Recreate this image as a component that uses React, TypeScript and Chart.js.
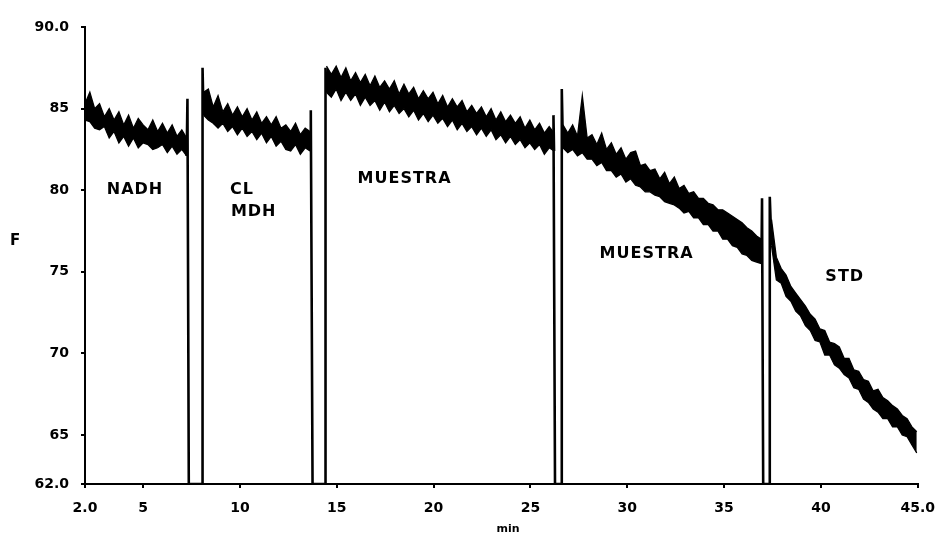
import React, { useEffect, useRef } from 'react';
import { Chart, registerables } from 'chart.js';

Chart.register(...registerables);

// ---- axes ----
const X_MIN = 2;
const X_MAX = 45;
const Y_MIN = 62;
const Y_MAX = 90;
const xTickValues = [2, 5, 10, 15, 20, 25, 30, 35, 40, 45];
const xTickLabels = ['2.0', '5', '10', '15', '20', '25', '30', '35', '40', '45.0'];
const yTickValues = [62, 65, 70, 75, 80, 85, 90];
const yTickLabels = ['62.0', '65', '70', '75', '80', '85', '90.0'];
const xTitle = 'min';
const yTitle = 'F';

// ---- recorder trace: noisy band, upper / lower edge read every SAMPLE_STEP min ----
const SAMPLE_STEP = 0.25;
const BASELINE = 62;
const segmentStart = [2.0, 8.12, 14.47, 26.68, 37.45];

const nadhUpper = [85.3, 86.0, 85.0, 85.3, 84.5, 85.0, 84.3, 84.8, 84.0, 84.6, 83.8, 84.4, 84.0, 83.7, 84.3, 83.6, 84.1, 83.5, 84.0, 83.3, 83.7, 83.2];
const nadhLower = [84.3, 84.2, 83.8, 83.7, 83.9, 83.2, 83.6, 82.9, 83.3, 82.7, 83.2, 82.6, 82.9, 82.8, 82.5, 82.6, 82.8, 82.3, 82.7, 82.2, 82.5, 82.1];

const clMdhUpper = [86.0, 86.2, 85.1, 85.8, 84.8, 85.3, 84.6, 85.1, 84.5, 85.0, 84.3, 84.8, 84.1, 84.5, 84.0, 84.5, 83.8, 84.0, 83.6, 84.1, 83.4, 83.8, 83.6];
const clMdhLower = [84.6, 84.3, 84.1, 83.8, 84.1, 83.6, 83.9, 83.4, 83.8, 83.3, 83.6, 83.1, 83.5, 82.9, 83.3, 82.7, 83.0, 82.5, 82.4, 82.8, 82.2, 82.6, 82.4];

const muestra1Upper = [
  87.6, 87.1, 87.6, 86.9, 87.5, 86.7, 87.2, 86.6, 87.1, 86.4,
  87.0, 86.3, 86.7, 86.2, 86.7, 85.9, 86.5, 85.9, 86.3, 85.6,
  86.1, 85.6, 86.0, 85.3, 85.8, 85.1, 85.6, 85.1, 85.5, 84.8,
  85.2, 84.7, 85.1, 84.5, 85.0, 84.3, 84.8, 84.2, 84.6, 84.1,
  84.5, 83.8, 84.3, 83.7, 84.1, 83.5, 83.9, 83.5,
];
const muestra1Lower = [
  86.0, 85.7, 86.2, 85.5, 86.0, 85.5, 85.9, 85.2, 85.7, 85.2,
  85.5, 84.9, 85.4, 84.8, 85.2, 84.7, 85.0, 84.5, 84.9, 84.3,
  84.7, 84.2, 84.6, 84.1, 84.4, 83.9, 84.3, 83.7, 84.1, 83.6,
  83.9, 83.4, 83.8, 83.3, 83.7, 83.1, 83.4, 82.9, 83.3, 82.8,
  83.1, 82.6, 82.9, 82.5, 82.8, 82.2, 82.6, 82.4,
];

const muestra2Upper = [
  84.0, 83.5, 84.0, 83.3, 85.8, 83.2, 83.4, 82.8, 83.5, 82.5,
  82.9, 82.2, 82.6, 81.9, 82.3, 82.4, 81.5, 81.6, 81.2, 81.3,
  80.7, 81.1, 80.4, 80.8, 80.1, 80.3, 79.8, 79.9, 79.5, 79.5,
  79.2, 79.1, 78.8, 78.8, 78.6, 78.4, 78.2, 78.0, 77.7, 77.5,
  77.2, 77.0,
];
const muestra2Lower = [
  82.6, 82.3, 82.5, 82.1, 82.3, 81.9, 81.9, 81.5, 81.7, 81.2,
  81.2, 80.8, 81.0, 80.5, 80.7, 80.3, 80.2, 79.9, 79.9, 79.7,
  79.6, 79.3, 79.2, 79.1, 78.9, 78.6, 78.7, 78.3, 78.3, 77.9,
  77.9, 77.5, 77.5, 77.0, 77.0, 76.6, 76.5, 76.1, 76.0, 75.7,
  75.6, 75.5,
];

const stdUpper = [
  78.2, 75.9, 75.2, 74.8, 74.1, 73.7, 73.3, 72.9, 72.4, 72.1,
  71.5, 71.4, 70.7, 70.6, 70.4, 69.7, 69.7, 69.0, 68.9, 68.4,
  68.3, 67.7, 67.8, 67.3, 67.1, 66.8, 66.6, 66.2, 66.0, 65.5,
  65.2,
];
const stdLower = [
  76.6, 74.5, 74.3, 73.5, 73.2, 72.6, 72.3, 71.7, 71.4, 70.8,
  70.7, 69.9, 69.9, 69.3, 69.1, 68.7, 68.5, 67.9, 67.8, 67.2,
  67.0, 66.6, 66.4, 66.0, 66.0, 65.5, 65.5, 65.0, 64.9, 64.4,
  63.9,
];

const segmentUpper = [nadhUpper, clMdhUpper, muestra1Upper, muestra2Upper, stdUpper];
const segmentLower = [nadhLower, clMdhLower, muestra1Lower, muestra2Lower, stdLower];

// injections: spike just before the cell is opened, drop to baseline, return
const spikeTime = [7.29, 13.66, 26.19, 36.96];
const spikeBefore = [85.6, 84.9, 84.6, 79.5];
const dropTime = [7.36, 13.75, 26.27, 37.02];
const riseTime = [8.07, 14.42, 26.62, 37.36];
const spikeAfter = [87.5, 87.5, 86.2, 79.6];

// ---- annotations (data coordinates) ----
const annotationTexts = ['NADH', 'CL', 'MDH', 'MUESTRA', 'MUESTRA', 'STD'];
const annotationX = [4.58, 10.11, 10.71, 18.5, 31.0, 41.23];
const annotationY = [80.0, 80.0, 78.7, 80.72, 76.12, 74.71];

function toPoints(vals: number[], start: number) {
  return vals.map((v, i) => ({ x: start + i * SAMPLE_STEP, y: v }));
}

function buildDatasets() {
  const ds: any[] = [];
  segmentUpper.forEach((up, k) => {
    ds.push({
      data: toPoints(up, segmentStart[k]),
      borderColor: '#000',
      borderWidth: 1.3,
      pointRadius: 0,
      tension: 0,
      fill: false,
    });
    ds.push({
      data: toPoints(segmentLower[k], segmentStart[k]),
      borderColor: '#000',
      borderWidth: 1.3,
      pointRadius: 0,
      tension: 0,
      fill: '-1',
      backgroundColor: '#000',
    });
  });
  const inj: any[] = [];
  dropTime.forEach((d, k) => {
    const lo = segmentLower[k];
    const endX = segmentStart[k] + (lo.length - 1) * SAMPLE_STEP;
    inj.push({ x: endX, y: lo[lo.length - 1] });
    inj.push({ x: spikeTime[k], y: spikeBefore[k] });
    inj.push({ x: d, y: BASELINE });
    inj.push({ x: riseTime[k], y: BASELINE });
    inj.push({ x: riseTime[k], y: spikeAfter[k] });
    inj.push({ x: segmentStart[k + 1], y: segmentLower[k + 1][0] });
    inj.push({ x: segmentStart[k + 1] + 0.01, y: null });
  });
  ds.push({
    data: inj,
    borderColor: '#000',
    borderWidth: 2.6,
    pointRadius: 0,
    tension: 0,
    fill: false,
    spanGaps: false,
  });
  return ds;
}

const textPlugin = {
  id: 'textPlugin',
  afterDatasetsDraw(chart: any) {
    const ctx = chart.ctx;
    const xs = chart.scales.x;
    const ys = chart.scales.y;
    ctx.save();
    ctx.fillStyle = '#000';
    ctx.textAlign = 'center';
    ctx.textBaseline = 'middle';
    ctx.font = 'bold 16px "DejaVu Sans"';
    try { (ctx as any).letterSpacing = '1px'; } catch (e) {}
    annotationTexts.forEach((t, i) => {
      ctx.fillText(t, xs.getPixelForValue(annotationX[i]), ys.getPixelForValue(annotationY[i]));
    });
    try { (ctx as any).letterSpacing = '0px'; } catch (e) {}
    ctx.font = 'bold 15px "DejaVu Sans"';
    ctx.fillText(yTitle, 15, 241);
    ctx.font = 'bold 11px "DejaVu Sans"';
    ctx.fillText(xTitle, 508, 529);
    ctx.restore();
  },
};

export default function App() {
  const ref = useRef<HTMLCanvasElement>(null);
  useEffect(() => {
    const tickFont = { family: '"DejaVu Sans"', weight: 'bold' as const, size: 14 };
    const chart = new Chart(ref.current!, {
      type: 'line',
      data: { datasets: buildDatasets() },
      options: {
        animation: false,
        responsive: false,
        devicePixelRatio: 1,
        parsing: false as any,
        layout: { padding: { top: 27, right: 19, left: 0, bottom: 0 } },
        plugins: {
          legend: { display: false },
          tooltip: { enabled: false },
          title: { display: false },
          filler: { propagate: false },
        },
        scales: {
          x: {
            type: 'linear',
            min: X_MIN,
            max: X_MAX,
            afterBuildTicks: (s: any) => {
              s.ticks = xTickValues.map((v) => ({ value: v }));
            },
            afterFit: (s: any) => {
              s.height = 53;
            },
            ticks: {
              autoSkip: false,
              maxRotation: 0,
              padding: 12,
              color: '#000',
              font: tickFont,
              callback: (v: any) => xTickLabels[xTickValues.indexOf(Number(v))],
            },
            grid: { drawOnChartArea: false, drawTicks: true, tickLength: 4, color: '#000', lineWidth: 2 },
            border: { display: true, color: '#000', width: 2 },
          },
          y: {
            type: 'linear',
            min: Y_MIN,
            max: Y_MAX,
            afterBuildTicks: (s: any) => {
              s.ticks = yTickValues.map((v) => ({ value: v }));
            },
            afterFit: (s: any) => {
              s.width = 85;
            },
            ticks: {
              autoSkip: false,
              padding: 12,
              color: '#000',
              font: tickFont,
              callback: (v: any) => yTickLabels[yTickValues.indexOf(Number(v))],
            },
            grid: { drawOnChartArea: false, drawTicks: true, tickLength: 4, color: '#000', lineWidth: 2 },
            border: { display: true, color: '#000', width: 2 },
          },
        },
      },
      plugins: [textPlugin],
    });
    return () => chart.destroy();
  }, []);
  return (
    <div style={{ position: 'fixed', left: 0, top: 0, width: 947, height: 537, background: '#fff' }}>
      <canvas ref={ref} width={947} height={537} style={{ display: 'block', width: 947, height: 537 }} />
    </div>
  );
}
